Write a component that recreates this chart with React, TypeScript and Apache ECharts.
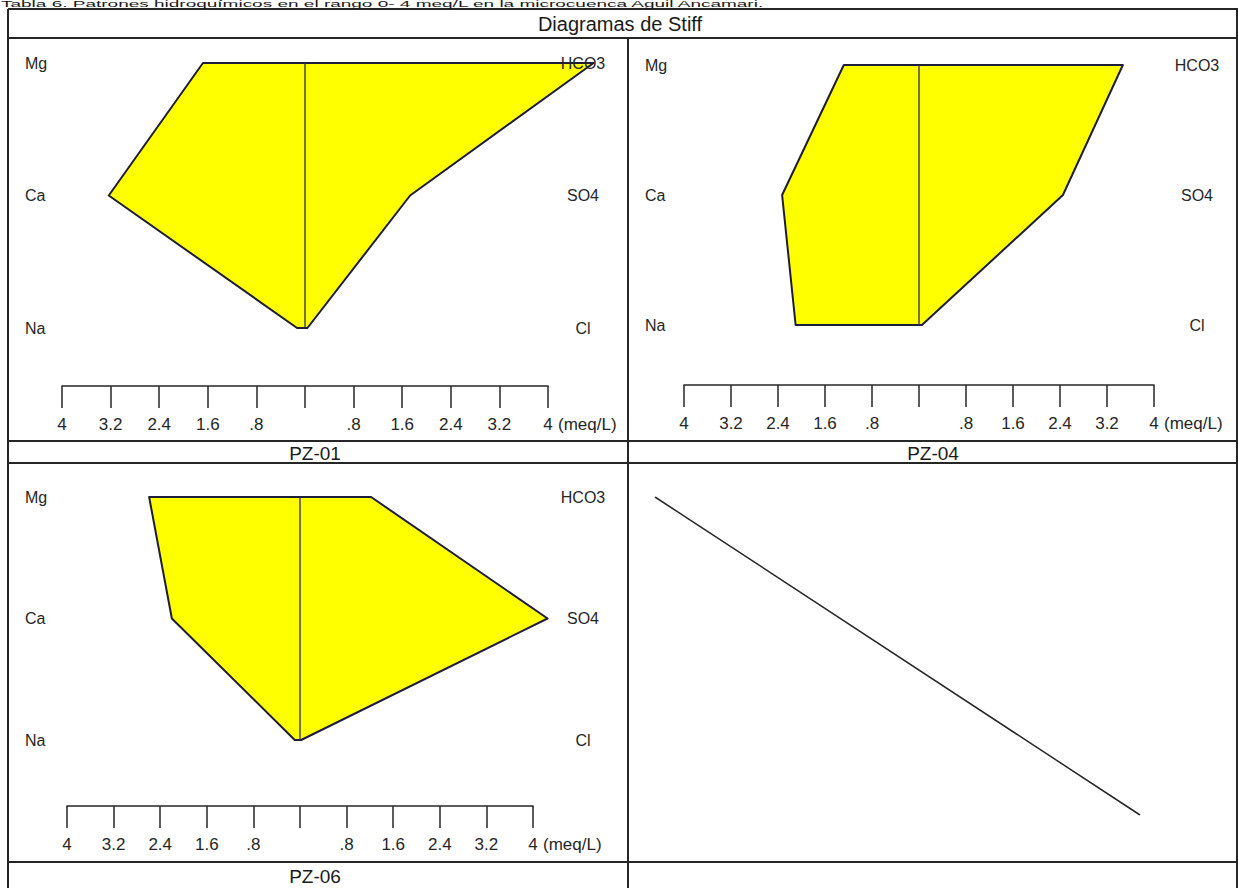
import React, { useEffect, useRef } from 'react';
import * as echarts from 'echarts';

// Ion rows, top to bottom
const cationLabels = ['Mg', 'Ca', 'Na'];
const anionLabels = ['HCO3', 'SO4', 'Cl'];
const rowValues = [2, 1, 0];

// Sample wells (meq/L)
const wellNames = ['PZ-01', 'PZ-04', 'PZ-06'];
const pz01Cations = [1.68, 3.23, 0.13];
const pz01Anions = [4.75, 1.73, 0.04];
const pz04Cations = [1.28, 2.33, 2.1];
const pz04Anions = [3.47, 2.45, 0.05];
const pz06Cations = [2.59, 2.2, 0.09];
const pz06Anions = [1.22, 4.25, 0.02];

// Scale bar
const scaleMin = -4;
const scaleMax = 4;
const scaleStep = 0.8;
const scaleUnit = '(meq/L)';

const titleText = 'Diagramas de Stiff';
const captionText = 'Tabla 6. Patrones hidroquímicos en el rango 0- 4 meq/L en la microcuenca Aguil Ancamari.';

const FONT = '"Liberation Sans", Arial, Helvetica, sans-serif';
const INK = '#262626';
const TICK_FONT = 17;
const ION_FONT = 16;

const wells = [
  { name: wellNames[0], cations: pz01Cations, anions: pz01Anions },
  { name: wellNames[1], cations: pz04Cations, anions: pz04Anions },
  { name: wellNames[2], cations: pz06Cations, anions: pz06Anions },
];

// Pixel layout of each Stiff panel
const panelLayout = [
  { left: 62, width: 486, top: 63, height: 265, scaleY: 386, labelLeft: 25, labelRight: 583, nameX: 315, nameY: 453 },
  { left: 684, width: 470, top: 65, height: 260, scaleY: 385, labelLeft: 645, labelRight: 1197, nameX: 933, nameY: 453 },
  { left: 67, width: 466, top: 497, height: 243, scaleY: 806, labelLeft: 25, labelRight: 583, nameX: 315, nameY: 876 },
];

const isZero = (v: number) => Math.abs(v) < 1e-6;
const isMax = (v: number) => v > scaleMax - 1e-6;

function scaleLabel(v: number): string {
  if (isZero(v)) return '';
  let s = String(+Math.abs(v).toFixed(1));
  if (s.startsWith('0')) s = s.slice(1);
  return s;
}

function buildOption() {
  const grid: any[] = [];
  const xAxis: any[] = [];
  const yAxis: any[] = [];
  const series: any[] = [];

  wells.forEach((w, i) => {
    const L = panelLayout[i];
    grid.push({ left: L.left, top: L.top, width: L.width, height: L.height, containLabel: false });
    const common = {
      gridIndex: i,
      type: 'value',
      min: scaleMin,
      max: scaleMax,
      interval: scaleStep,
      position: 'bottom',
      offset: L.scaleY - (L.top + L.height),
      splitLine: { show: false },
    };
    // scale bar with ticks and values
    xAxis.push({
      ...common,
      axisLine: { show: true, onZero: false, lineStyle: { color: INK, width: 1.5 } },
      axisTick: { show: true, inside: false, length: 22, lineStyle: { color: INK, width: 1.5 } },
      axisLabel: {
        show: true,
        showMinLabel: true,
        showMaxLabel: true,
        margin: 30,
        color: INK,
        fontSize: TICK_FONT,
        fontFamily: FONT,
        formatter: scaleLabel,
      },
    });
    // unit written after the last value
    xAxis.push({
      ...common,
      axisLine: { show: false },
      axisTick: { show: false },
      axisLabel: {
        show: true,
        showMinLabel: true,
        showMaxLabel: true,
        margin: 30,
        align: 'left',
        padding: [0, 0, 0, 10],
        color: INK,
        fontSize: TICK_FONT,
        fontFamily: FONT,
        formatter: (v: number) => (isMax(v) ? scaleUnit : ''),
      },
    });
    yAxis.push({
      gridIndex: i,
      type: 'value',
      min: 0,
      max: 2,
      interval: 1,
      position: 'left',
      z: 5,
      splitLine: { show: false },
      axisLine: { show: false },
      axisTick: { show: false },
      axisLabel: {
        margin: L.left - L.labelLeft,
        align: 'left',
        color: INK,
        fontSize: ION_FONT,
        fontFamily: FONT,
        formatter: (v: number) => cationLabels[rowValues.indexOf(v)] ?? '',
      },
    });
    yAxis.push({
      gridIndex: i,
      type: 'value',
      min: 0,
      max: 2,
      interval: 1,
      position: 'right',
      z: 5,
      splitLine: { show: false },
      axisLine: { show: false },
      axisTick: { show: false },
      axisLabel: {
        margin: L.labelRight - (L.left + L.width),
        align: 'center',
        color: INK,
        fontSize: ION_FONT,
        fontFamily: FONT,
        formatter: (v: number) => anionLabels[rowValues.indexOf(v)] ?? '',
      },
    });

    // Polygon: cations to the left (negative), anions to the right
    const pts: number[][] = [
      [-w.cations[0], rowValues[0]],
      [w.anions[0], rowValues[0]],
      [w.anions[1], rowValues[1]],
      [w.anions[2], rowValues[2]],
      [-w.cations[2], rowValues[2]],
      [-w.cations[1], rowValues[1]],
    ];
    series.push({
      type: 'custom',
      name: w.name,
      xAxisIndex: i * 2,
      yAxisIndex: i * 2,
      clip: false,
      silent: true,
      z: 2,
      data: pts,
      encode: { x: 0, y: 1 },
      renderItem: (params: any, api: any) => {
        if (params.dataIndex !== 0) return null;
        const points = pts.map((p) => api.coord(p));
        const top = api.coord([0, rowValues[0]]);
        const bot = api.coord([0, rowValues[2]]);
        return {
          type: 'group',
          children: [
            {
              type: 'polygon',
              shape: { points },
              style: { fill: '#ffff00', stroke: '#1d1d38', lineWidth: 2, lineJoin: 'round' },
            },
            {
              type: 'line',
              shape: { x1: top[0], y1: top[1], x2: bot[0], y2: bot[1] },
              style: { stroke: '#2a2a6e', lineWidth: 1.3 },
            },
          ],
        };
      },
    });
  });

  // Empty fourth cell, crossed out
  grid.push({ left: 655, top: 497, width: 485, height: 318 });
  xAxis.push({ gridIndex: 3, type: 'value', min: 0, max: 1, show: false });
  yAxis.push({ gridIndex: 3, type: 'value', min: 0, max: 1, show: false });
  series.push({
    type: 'line',
    xAxisIndex: xAxis.length - 1,
    yAxisIndex: yAxis.length - 1,
    data: [[0, 1], [1, 0]],
    symbol: 'none',
    silent: true,
    lineStyle: { color: INK, width: 1.5 },
  });

  const line = (x1: number, y1: number, x2: number, y2: number) => ({
    type: 'line',
    silent: true,
    shape: { x1, y1, x2, y2 },
    style: { stroke: INK, lineWidth: 2 },
  });

  const graphic: any[] = [
    line(8, 9, 1238, 9),
    line(8, 38, 1238, 38),
    line(8, 441, 1238, 441),
    line(8, 463, 1238, 463),
    line(8, 862, 1238, 862),
    line(8, 9, 8, 888),
    line(628, 38, 628, 888),
    line(1237, 9, 1237, 888),
    {
      type: 'text',
      silent: true,
      x: 620,
      y: 24,
      style: { text: titleText, fill: '#1a1a1a', fontSize: 20, fontFamily: FONT, align: 'center', verticalAlign: 'middle' },
    },
    {
      // Caption squeezed into the strip above the table
      type: 'text',
      silent: true,
      x: 1,
      y: 0,
      scaleX: 1,
      scaleY: 0.45,
      style: { text: captionText, fill: '#1a1a1a', fontSize: 19, fontFamily: FONT, align: 'left', verticalAlign: 'top' },
    },
  ];
  wells.forEach((w, i) => {
    const L = panelLayout[i];
    graphic.push({
      type: 'text',
      silent: true,
      x: L.nameX,
      y: L.nameY,
      style: { text: w.name, fill: '#1a1a1a', fontSize: 19, fontFamily: FONT, align: 'center', verticalAlign: 'middle' },
    });
  });

  return {
    animation: false,
    backgroundColor: '#ffffff',
    grid,
    xAxis,
    yAxis,
    series,
    graphic,
  };
}

export default function App() {
  const ref = useRef<HTMLDivElement>(null);
  useEffect(() => {
    if (!ref.current) return;
    const chart = echarts.init(ref.current, null, { renderer: 'svg' });
    chart.setOption(buildOption());
    return () => chart.dispose();
  }, []);
  return (
    <div
      ref={ref}
      style={{ position: 'absolute', left: 0, top: 0, width: 1238, height: 888, background: '#ffffff' }}
    />
  );
}
